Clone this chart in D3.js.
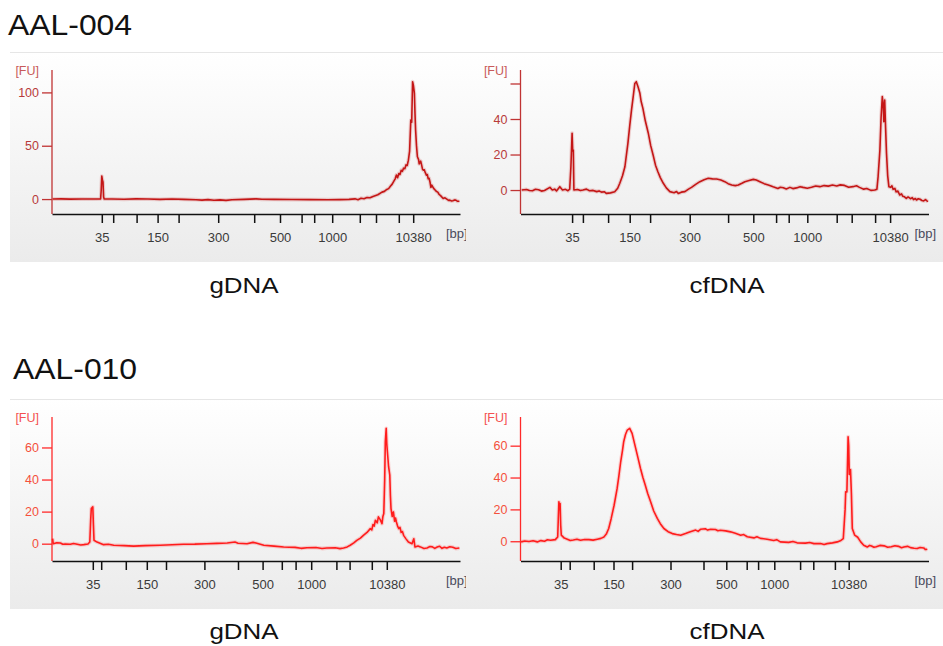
<!DOCTYPE html>
<html>
<head>
<meta charset="utf-8">
<script src="https://cdn.jsdelivr.net/npm/d3@7"></script>
<style>
  body { margin: 0; background: #fff; }
  svg { display: block; font-family: "Liberation Sans", Arial, sans-serif; }
</style>
</head>
<body>
<svg id="chart" width="943" height="646"></svg>
<script>
// ladder bands (bp) and the ones that get a label
const ladderBp = [35, 50, 100, 150, 200, 300, 400, 500, 600, 700, 1000, 2000, 3000, 7000, 10380]
const labelledBp = [35, 150, 300, 500, 1000, 10380]

// migration time (s) of every ladder band, per run
const ladderTime004g  = [48.3, 50.2, 54.1, 57.6, 61.1, 67.7, 73.7, 78.0, 81.6, 83.7, 86.7, 91.3, 94.0, 97.8, 100.2]
const ladderTime004cf = [48.6, 50.4, 54.6, 58.2, 61.6, 68.2, 74.6, 78.8, 82.6, 84.7, 87.8, 92.7, 95.2, 99.1, 101.6]
const ladderTime010g  = [46.8, 48.2, 52.3, 55.8, 59.0, 65.4, 71.0, 75.1, 78.3, 80.6, 83.2, 87.4, 89.6, 93.3, 95.8]
const ladderTime010cf = [46.7, 48.2, 52.2, 55.5, 58.6, 65.0, 70.5, 74.3, 77.7, 79.6, 82.3, 86.6, 88.8, 92.4, 94.7]

// FU axis ranges and ticks
const fuRange004g  = [-14, 121]
const fuRange004cf = [-13.5, 67.6]
const fuRange010g  = [-10.8, 79]
const fuRange010cf = [-12.4, 78]
const fuTicks004g  = [0, 50, 100]
const fuTicks004cf = [0, 20, 40, 60]
const fuTicks010g  = [0, 20, 40, 60]
const fuTicks010cf = [0, 20, 40, 60]

// electropherogram traces: [time (s), fluorescence (FU)]
const trace004g = [
  [40.1, 0], [41.5, 0.2], [43, -0.1], [45, 0.1], [47, 0], [48.1, 0.2], [48.2, 8], [48.3, 21.5], [48.4, 18],
  [48.5, 16], [48.6, 2], [48.7, 0], [50, 0.1], [52, -0.2], [54, 0.2], [56, 0], [58, -0.3], [60, 0.1],
  [62, -0.3], [64, -0.6], [65, -1], [66, -0.5], [67, -1.1], [68, -0.8], [69, -1.2], [70, -0.6], [72, -0.3],
  [74, 0.2], [75, -0.2], [77, -0.3], [80, -0.4], [83, -0.5], [86, -0.6], [88, -0.5], [89.5, -0.3],
  [90.5, 0.2], [91, -0.6], [91.5, 0.8], [92, 0.3], [92.5, 1.5], [93, 1.2], [93.5, 2.5], [94.3, 4], [95, 6.5],
  [95.4, 7.2], [95.8, 9], [96.1, 9.8], [96.4, 12], [96.7, 14], [97, 17], [97.2, 19], [97.4, 22.5], [97.6, 20],
  [97.8, 24], [98, 23], [98.2, 27], [98.4, 26], [98.6, 29], [98.8, 28.5], [99, 32], [99.2, 31.5], [99.4, 36.5],
  [99.6, 45], [99.8, 74], [99.95, 72], [100.1, 110], [100.25, 106], [100.4, 99], [100.5, 80], [100.6, 64.7],
  [100.75, 50], [100.9, 39.7], [101.1, 37], [101.2, 33], [101.3, 34], [101.45, 35.5], [101.6, 32], [101.75, 28],
  [101.9, 27], [102.05, 27.5], [102.2, 25], [102.4, 22.5], [102.55, 23], [102.7, 19], [102.85, 19.5], [103, 16],
  [103.15, 11], [103.3, 13], [103.6, 10], [103.85, 8.5], [104.1, 7], [104.3, 6.5], [104.5, 4.5], [104.8, 3],
  [105.2, 0.6], [105.5, 1.2], [105.8, 0], [106.1, -1.2], [106.3, -1], [106.6, -1.8], [106.8, -1.5],
  [107.1, -0.8], [107.3, -1], [107.6, -2.1], [107.9, -2]
]
const trace004cf = [
  [40.2, 0], [41, 0.3], [41.5, -0.3], [42, -0.4], [42.5, 0.4], [43, 0.2], [43.5, -0.6], [44, -0.3],
  [44.9, 1.5], [45.3, 0], [45.7, 0.5], [46, -0.5], [46.55, 1.9], [47, 0], [47.5, 0.4], [47.9, -0.4],
  [48.2, 0.5], [48.4, 13], [48.6, 32], [48.7, 22], [48.8, 22.5], [48.9, 0], [49.5, 0.3], [50, -0.3],
  [50.4, 0], [51, 0.5], [51.5, -0.4], [52.1, -0.2], [52.7, -0.9], [53.1, -0.5], [53.5, -1.2], [54, -1],
  [54.3, -1.9], [55, -1.6], [55.7, -1], [56.2, 1], [56.55, 3.8], [57, 8], [57.4, 13.1], [57.9, 26.3],
  [58.2, 36], [58.5, 45], [58.8, 53], [59.05, 60], [59.3, 61], [59.6, 58], [59.9, 54.5], [60.1, 50],
  [60.4, 46], [60.8, 39], [61.3, 32], [61.7, 25], [62.1, 19.7], [62.5, 14], [62.9, 10.3], [63.3, 7],
  [63.8, 3.8], [64.3, 1.2], [64.9, -0.9], [65.6, -1.5], [66, -0.8], [66.3, -1.9], [66.8, -1.2], [67.4, -0.9],
  [68, 0.5], [68.5, 1.5], [69.2, 3.2], [69.9, 4.7], [70.6, 5.8], [71.3, 6.6], [72, 6.3], [72.7, 6.2],
  [73.4, 5.6], [74.05, 4.7], [74.6, 3.6], [75.2, 2.8], [75.8, 2.5], [76.3, 2.8], [76.9, 3.8], [77.4, 4.7],
  [78.1, 5.4], [78.8, 6], [79.3, 5.6], [79.9, 4.7], [80.6, 3.6], [81.3, 2.8], [82.1, 1.8], [82.9, 0.9],
  [83.3, 1.6], [83.8, 1.3], [84.3, 0.6], [84.9, 1.5], [85.4, 0.8], [86, 1.2], [86.6, 1.9], [87.1, 1.5],
  [87.8, 1], [88.5, 1.6], [89.2, 2.3], [89.9, 1.9], [90.6, 2.5], [91.3, 2.2], [92, 2.8], [92.7, 2.3],
  [93.3, 2.9], [94, 2.6], [94.7, 1.6], [95.4, 1.9], [96, 2.4], [96.5, 1.5], [97.2, 0.5], [97.7, 0.9],
  [98.4, -0.2], [99.05, 0], [99.4, 0.5], [99.6, 7.5], [99.9, 22.5], [100.1, 41], [100.3, 52.6], [100.45, 48],
  [100.55, 38.5], [100.7, 50.7], [100.85, 35], [101, 20.7], [101.2, 8], [101.4, 1.9], [101.7, 1.5],
  [101.9, 2.4], [102.1, 0.4], [102.4, 0.9], [102.6, -1], [102.9, -0.6], [103.2, -2.8], [103.5, -2.2],
  [103.7, -3.5], [104, -3.8], [104.3, -4.7], [104.6, -3.9], [105, -4.9], [105.3, -4.3], [105.5, -5.4],
  [105.8, -4.8], [106, -5.6], [106.3, -4.9], [106.6, -5.2], [106.9, -5.9], [107.2, -6.1], [107.5, -5.4],
  [107.9, -6.6]
]
const trace010g = [
  [40.1, 3.1], [40.2, 0], [40.8, 0.6], [41.4, 0.4], [41.8, -0.4], [42.2, -0.2], [43.05, -0.4], [43.6, 0.1],
  [44.2, -0.3], [44.8, -0.8], [45.3, -0.6], [46, -0.2], [46.3, 1], [46.45, 15], [46.55, 21.9], [46.8, 23],
  [46.9, 12], [47, 2.1], [47.5, 1], [48, 0.3], [48.6, -0.6], [49.4, -0.4], [50.3, -1], [51.2, -1.1], [52, -1.2],
  [53.6, -1.5], [55.5, -1.2], [58.05, -1], [60, -0.7], [61.9, -0.4], [63.8, -0.3], [65.8, 0], [67.5, 0.2],
  [69.2, 0.4], [70.5, 1], [71, 0.3], [72.5, 0], [73.5, 0.8], [74, 0.4], [75.3, -1], [77, -1.5], [78.6, -2.1],
  [80.5, -2.3], [81.5, -2.9], [82.5, -2.5], [84, -2.4], [85, -3], [85.8, -2.7], [87.2, -2.5], [88, -3.1],
  [88.6, -2.7], [89.2, -2], [89.7, -1], [90.3, 0.5], [90.8, 2.1], [91.4, 3.5], [91.9, 5.2], [92.5, 7],
  [93.05, 9.4], [93.3, 8.6], [93.5, 12], [93.7, 11], [93.9, 14.6], [94.2, 13], [94.4, 16.7], [94.7, 15],
  [95, 12.5], [95.15, 17], [95.3, 18.8], [95.45, 40], [95.55, 63.5], [95.7, 71.9], [95.8, 62], [95.9, 57.3],
  [96.1, 48], [96.3, 42.7], [96.4, 30], [96.5, 21.9], [96.7, 17], [96.9, 19.8], [97.1, 14], [97.25, 16],
  [97.4, 13.5], [97.6, 11], [97.8, 9.4], [98, 10.2], [98.2, 7], [98.4, 7.6], [98.6, 5.2], [99, 3], [99.4, 1],
  [100, 0], [100.3, 3.1], [100.5, -2.1], [101, -1.4], [101.4, -2], [102, -3], [102.5, -2.7], [103, -1.8],
  [103.4, -2], [103.8, -2.9], [104.2, -2.1], [104.6, -1.6], [105, -2.9], [105.4, -2.2], [105.8, -2.7],
  [106.3, -1.9], [106.8, -2.2], [107.3, -3], [107.9, -2.7]
]
const trace010cf = [
  [40.1, -0.4], [40.7, 0.2], [41.4, -0.2], [42.1, 0.3], [42.8, -0.4], [43.4, 0.4], [44, 0], [44.5, 0.9],
  [45, 0.6], [45.8, 1], [46.2, 2.7], [46.3, 14], [46.4, 24.7], [46.5, 20], [46.6, 23.7], [46.7, 10],
  [46.8, 3.8], [47.3, 2], [47.8, 1.3], [48.3, 0.5], [48.8, 0.8], [49.4, 1.3], [50, 0.6], [50.7, 1.1],
  [51.4, 1], [52.1, 0.7], [52.8, 1.3], [53.4, 1.8], [53.9, 2.7], [54.3, 4.5], [54.7, 8], [55.1, 14],
  [55.6, 22.6], [56.1, 33], [56.4, 41], [56.7, 49.9], [57, 57], [57.2, 62.5], [57.5, 67], [57.8, 69.8],
  [58.2, 70.9], [58.6, 67.7], [58.9, 63], [59.2, 58.3], [59.6, 52], [60, 45.7], [60.4, 40], [60.8, 35.2],
  [61.2, 30], [61.7, 24.7], [62.2, 19], [62.8, 14.3], [63.3, 11], [63.9, 8], [64.6, 6], [65.3, 4.8],
  [66, 4.2], [66.7, 3.8], [67.5, 4.8], [68.3, 5.9], [69.2, 7], [69.6, 6.2], [70, 7.5], [70.8, 7.8],
  [71.2, 7], [71.7, 7.5], [72.5, 7.4], [72.9, 6.6], [73.3, 6.9], [74.2, 6.5], [75, 5.9], [75.8, 5],
  [76.7, 3.8], [77.2, 4.2], [77.8, 2.8], [78.9, 2.1], [79.4, 2.8], [80, 1.8], [81.1, 1.3], [82.2, 0.5],
  [82.7, 1], [83.3, -0.4], [84.7, -0.7], [85.4, -0.2], [86.1, -1], [87.5, -1.2], [88.2, -0.8], [88.9, -1.5],
  [90, -1.4], [90.6, -2], [91.1, -1.5], [92, -1], [92.8, -0.4], [93.4, 0.5], [93.8, 1.7], [94.1, 20],
  [94.2, 31], [94.4, 31], [94.6, 65.6], [94.7, 60], [94.8, 41.9], [95, 45], [95.15, 30], [95.3, 8],
  [95.7, 3.8], [96.2, 2.5], [96.7, -0.4], [97.2, -2.5], [97.8, -3.6], [98.2, -2.6], [98.5, -3], [98.9, -3.8],
  [99.3, -3.4], [99.9, -2.6], [100.6, -2.9], [101.2, -3.8], [101.8, -3.5], [102.4, -2.8], [103, -3.2],
  [103.5, -4.1], [103.9, -3.6], [104.5, -3.2], [105, -4], [105.6, -4.4], [106.1, -4.6], [106.6, -3.9],
  [107.2, -4.2], [107.5, -5.2], [107.8, -5]
]

const sampleNames = ['AAL-004', 'AAL-010']
const sampleTypes = ['gDNA', 'cfDNA']
const timeRange = [40, 108]

const svg = d3.select('#chart')

// background gradient like the instrument export
const grad = svg.append('defs').append('linearGradient')
  .attr('id', 'panelBg').attr('x1', 0).attr('y1', 0).attr('x2', 0).attr('y2', 1)
grad.append('stop').attr('offset', '0%').attr('stop-color', '#ffffff')
grad.append('stop').attr('offset', '100%').attr('stop-color', '#ebebeb')

// dark red for the top run, bright red for the bottom one
const themes = [
  { line: '#c41616', axis: '#c03434', tickText: '#b83a3a', fu: '#c85a5a' },
  { line: '#ff1c1c', axis: '#ff2a2a', tickText: '#f4503c', fu: '#f45050' }
]

const panels = [
  { row: 0, col: 0, trace: trace004g,  ladder: ladderTime004g,  fu: fuRange004g,  ticks: fuTicks004g },
  { row: 0, col: 1, trace: trace004cf, ladder: ladderTime004cf, fu: fuRange004cf, ticks: fuTicks004cf, hideTop: true },
  { row: 1, col: 0, trace: trace010g,  ladder: ladderTime010g,  fu: fuRange010g,  ticks: fuTicks010g },
  { row: 1, col: 1, trace: trace010cf, ladder: ladderTime010cf, fu: fuRange010cf, ticks: fuTicks010cf }
]

// geometry of the rows / columns
const rowBox = [ { bgTop: 52, bgBottom: 262, top: 70, axisY: 214, caption: 293, title: 35 },
                 { bgTop: 399, bgBottom: 609, top: 417, axisY: 561, caption: 639, title: 379 } ]
const colBox = [ { bgLeft: 10, bgRight: 466, x0: 52, capX: 244 },
                 { bgLeft: 466, bgRight: 943, x0: 520.5, capX: 727 } ]
const plotW = 408

// row titles
sampleNames.forEach(function (name, i) {
  svg.append('text')
    .attr('transform', 'translate(' + (i === 0 ? 8 : 13) + ',' + rowBox[i].title + ') scale(1.1,1)')
    .style('font-size', '29px')
    .style('fill', '#111')
    .text(name)
})

panels.forEach(function (p) {
  const r = rowBox[p.row]
  const c = colBox[p.col]
  const th = themes[p.row]

  svg.append('rect')
    .attr('x', c.bgLeft).attr('y', r.bgTop)
    .attr('width', c.bgRight - c.bgLeft).attr('height', r.bgBottom - r.bgTop)
    .attr('fill', 'url(#panelBg)')
  svg.append('line')
    .attr('x1', c.bgLeft).attr('x2', c.bgRight)
    .attr('y1', r.bgTop + 0.5).attr('y2', r.bgTop + 0.5)
    .attr('stroke', '#e6e6e6')

  const x = d3.scaleLinear().domain(timeRange).range([c.x0, c.x0 + plotW])
  const y = d3.scaleLinear().domain(p.fu).range([r.axisY, r.top])

  const g = svg.append('g')

  // y axis (FU)
  const yAxis = g.append('g')
    .attr('transform', 'translate(' + c.x0 + ',0)')
    .call(d3.axisLeft(y).tickValues(p.ticks).tickSize(10).tickPadding(3)
      .tickFormat(function (d) { return (p.hideTop && d === 60) ? '' : d }))
  yAxis.select('.domain').remove()
  yAxis.selectAll('.tick line').attr('stroke', th.axis).attr('stroke-width', 1.3)
  yAxis.selectAll('.tick text')
    .attr('fill', th.tickText)
    .style('font-size', '12.5px')
    .style('font-family', '"Liberation Sans", Arial, sans-serif')
  g.append('line')
    .attr('x1', c.x0).attr('x2', c.x0)
    .attr('y1', r.top).attr('y2', r.axisY)
    .attr('stroke', th.axis).attr('stroke-width', 1.3)

  g.append('text')
    .attr('x', c.x0 - 13).attr('y', r.top + 5)
    .attr('text-anchor', 'end')
    .style('font-size', '12.5px')
    .attr('fill', th.fu)
    .text('[FU]')

  // x axis (ladder bands)
  const xAxis = g.append('g')
    .attr('transform', 'translate(0,' + r.axisY + ')')
    .call(d3.axisBottom(x).tickValues(p.ladder).tickSize(9).tickSizeOuter(0).tickPadding(10)
      .tickFormat(function (d, i) {
        const bp = ladderBp[i]
        return labelledBp.indexOf(bp) >= 0 ? bp : ''
      }))
  xAxis.select('.domain').attr('stroke', '#111').attr('stroke-width', 1.6)
  xAxis.selectAll('.tick line').attr('stroke', '#111').attr('stroke-width', 1.5)
  xAxis.selectAll('.tick text')
    .attr('fill', '#3a3a3a')
    .style('font-size', '13px')
    .style('font-family', '"Liberation Sans", Arial, sans-serif')

  g.append('text')
    .attr('x', c.x0 + 394).attr('y', r.axisY + 24)
    .style('font-size', '13px')
    .attr('fill', '#4a4a5c')
    .text('[bp]')

  // trace
  const line = d3.line()
    .x(function (d) { return x(d[0]) })
    .y(function (d) { return y(d[1]) })
  g.append('path').datum(p.trace)
    .attr('d', line).attr('fill', 'none')
    .attr('stroke', th.line).attr('stroke-opacity', 0.18).attr('stroke-width', 3.8)
    .attr('stroke-linejoin', 'round')
  g.append('path').datum(p.trace)
    .attr('d', line).attr('fill', 'none')
    .attr('stroke', th.line).attr('stroke-width', 1.6)
    .attr('stroke-linejoin', 'round')

  // caption under the panel
  svg.append('text')
    .attr('transform', 'translate(' + c.capX + ',' + r.caption + ') scale(1.18,1)')
    .attr('text-anchor', 'middle')
    .style('font-size', '22px')
    .style('fill', '#111')
    .text(sampleTypes[p.col])
})
</script>
</body>
</html>
